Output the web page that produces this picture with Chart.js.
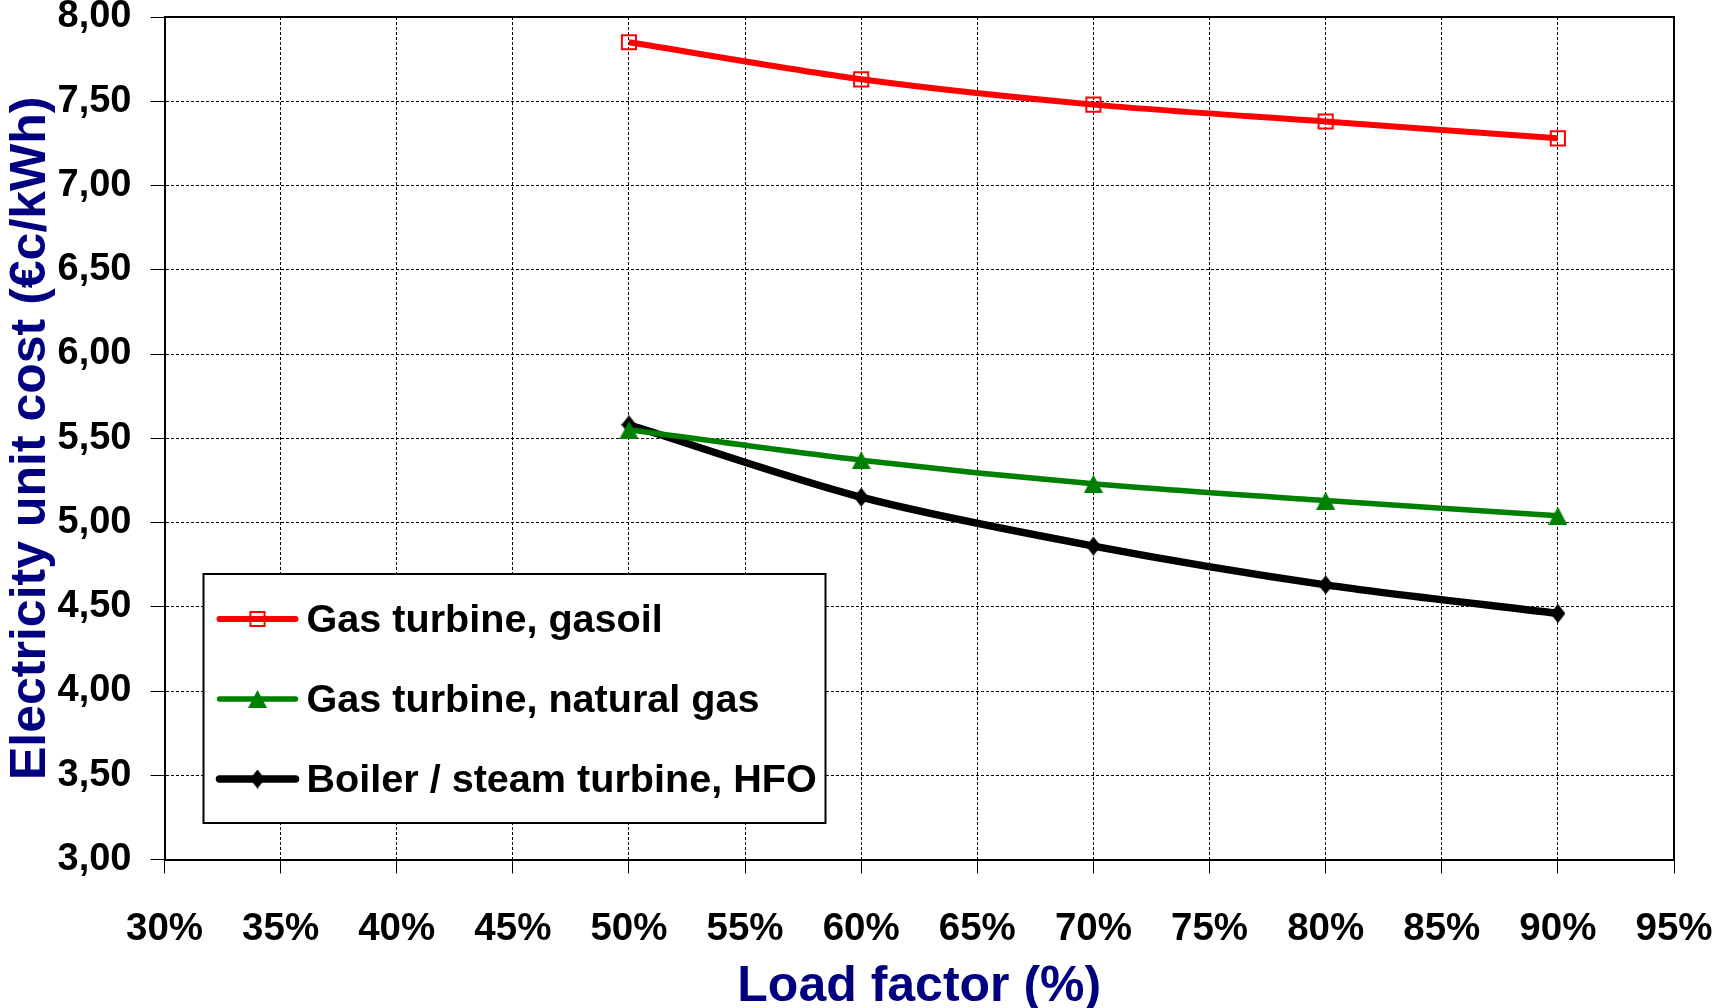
<!DOCTYPE html>
<html>
<head>
<meta charset="utf-8">
<script src="https://cdn.jsdelivr.net/npm/chart.js@4.4.1/dist/chart.umd.min.js"></script>
<style>
  html, body { margin: 0; padding: 0; background: #fff; }
  #wrap { width: 1719px; height: 1008px; position: relative; }
</style>
</head>
<body>
<div id="wrap"><canvas id="c" width="1719" height="1008"></canvas></div>
<script>
// ---- Data ----
const loadFactors = [50, 60, 70, 80, 90];
const gasTurbineGasoil = [7.85, 7.63, 7.48, 7.38, 7.28];
const gasTurbineNaturalGas = [5.55, 5.37, 5.23, 5.13, 5.04];
const boilerSteamHFO = [5.58, 5.15, 4.86, 4.63, 4.46];
const seriesLabels = ['Gas turbine, gasoil', 'Gas turbine, natural gas', 'Boiler / steam turbine, HFO'];
const xAxisTitle = 'Load factor (%)';
const yAxisTitle = 'Electricity unit cost (€c/kWh)';

const FONT = "'Liberation Sans', Arial, Helvetica, sans-serif";
const NAVY = '#000080';

function toPoints(vals) { return loadFactors.map((x, i) => ({ x: x, y: vals[i] })); }

function zeroPadding(scale) {
  scale.paddingLeft = 0; scale.paddingRight = 0;
  scale.paddingTop = 0; scale.paddingBottom = 0;
}

// Excel-like markers centred on their bounding box
function makeMarker(w, h, color, pts) {
  const cv = document.createElement('canvas');
  cv.width = w; cv.height = h;
  const c = cv.getContext('2d');
  c.fillStyle = color;
  c.beginPath();
  pts.forEach((p, i) => i ? c.lineTo(p[0] * w, p[1] * h) : c.moveTo(p[0] * w, p[1] * h));
  c.closePath();
  c.fill();
  return cv;
}
const triangleMarker = makeMarker(19, 18, '#008000', [[0.5, 0], [1, 1], [0, 1]]);
const diamondMarker = makeMarker(15, 19, '#000000', [[0.5, 0], [1, 0.5], [0.5, 1], [0, 0.5]]);

const frameAndLegend = {
  id: 'frameAndLegend',
  beforeDatasetsDraw(chart) {
    const { ctx, chartArea: a } = chart;
    ctx.save();
    ctx.strokeStyle = '#000';
    ctx.lineWidth = 2;
    ctx.beginPath();
    ctx.moveTo(a.left, a.top);
    ctx.lineTo(a.right, a.top);
    ctx.lineTo(a.right, a.bottom);
    ctx.stroke();
    ctx.restore();
  },
  afterDraw(chart) {
    const { ctx, chartArea: a } = chart;
    const bx = a.left + 39, by = 574, bw = 622, bh = 249;
    ctx.save();
    ctx.fillStyle = '#fff';
    ctx.fillRect(bx, by, bw, bh);
    ctx.strokeStyle = '#000';
    ctx.lineWidth = 2;
    ctx.strokeRect(bx, by, bw, bh);
    chart.data.datasets.forEach((ds, i) => {
      const y = by + 45 + i * 80;
      const x0 = bx + 16, x1 = bx + 92;
      ctx.strokeStyle = ds.borderColor;
      ctx.lineWidth = ds.borderWidth;
      ctx.lineCap = 'round';
      ctx.beginPath();
      ctx.moveTo(x0, y);
      ctx.lineTo(x1, y);
      ctx.stroke();
      ctx.fillStyle = ds.pointBackgroundColor;
      ctx.strokeStyle = ds.pointBorderColor;
      ctx.lineWidth = ds.pointBorderWidth;
      Chart.helpers.drawPoint(ctx, {
        pointStyle: ds.pointStyle,
        radius: ds.pointRadius,
        rotation: 0,
        borderWidth: ds.pointBorderWidth
      }, (x0 + x1) / 2, y);
      ctx.fillStyle = '#000';
      ctx.font = 'bold 39.6px ' + FONT;
      ctx.textBaseline = 'middle';
      ctx.textAlign = 'left';
      ctx.fillText(ds.label, bx + 103, y + 2);
    });
    ctx.restore();
  }
};

new Chart(document.getElementById('c'), {
  type: 'line',
  data: {
    datasets: [
      {
        label: seriesLabels[0],
        data: toPoints(gasTurbineGasoil),
        borderColor: '#ff0000',
        borderWidth: 6,
        pointStyle: 'rect',
        pointRadius: 10,
        pointBackgroundColor: 'rgba(255,255,255,0)',
        pointBorderColor: '#ff0000',
        pointBorderWidth: 2,
        tension: 0.3
      },
      {
        label: seriesLabels[1],
        data: toPoints(gasTurbineNaturalGas),
        borderColor: '#008000',
        borderWidth: 5.5,
        pointStyle: triangleMarker,
        pointRadius: 10,
        pointBackgroundColor: '#008000',
        pointBorderColor: '#008000',
        pointBorderWidth: 0,
        tension: 0.3
      },
      {
        label: seriesLabels[2],
        data: toPoints(boilerSteamHFO),
        borderColor: '#000000',
        borderWidth: 7.5,
        pointStyle: diamondMarker,
        pointRadius: 9,
        pointBackgroundColor: '#000000',
        pointBorderColor: '#000000',
        pointBorderWidth: 0,
        tension: 0.3
      }
    ]
  },
  options: {
    responsive: false,
    animation: false,
    devicePixelRatio: 1,
    layout: { autoPadding: false, padding: { top: 17, right: 45, left: 0, bottom: 0 } },
    plugins: {
      legend: { display: false },
      tooltip: { enabled: false }
    },
    scales: {
      x: {
        type: 'linear',
        min: 30,
        max: 95,
        afterFit(scale) { scale.height = 148.5; zeroPadding(scale); },
        ticks: {
          stepSize: 5,
          autoSkip: false,
          maxRotation: 0,
          color: '#000',
          padding: 33,
          font: { family: FONT, size: 38.5, weight: 'bold' },
          callback: (v) => v + '%'
        },
        grid: { color: '#000', lineWidth: 1, tickLength: 14, tickColor: '#000', tickWidth: 1 },
        border: { display: true, color: '#000', width: 2, dash: [3, 2] },
        title: {
          display: true,
          text: xAxisTitle,
          color: NAVY,
          font: { family: FONT, size: 50, weight: 'bold', lineHeight: 0.84 },
          padding: { top: 0, bottom: 0 }
        }
      },
      y: {
        type: 'linear',
        min: 3,
        max: 8,
        afterFit(scale) { scale.width = 164.5; zeroPadding(scale); },
        ticks: {
          stepSize: 0.5,
          color: '#000',
          padding: 19,
          font: { family: FONT, size: 38, weight: 'bold' },
          callback: (v) => Number(v).toFixed(2).replace('.', ',')
        },
        grid: { color: '#000', lineWidth: 1, tickLength: 14, tickColor: '#000', tickWidth: 1 },
        border: { display: true, color: '#000', width: 2, dash: [3, 2] },
        title: {
          display: true,
          text: yAxisTitle,
          color: NAVY,
          font: { family: FONT, size: 50, weight: 'bold', lineHeight: 1 },
          padding: { top: 6, bottom: 0 }
        }
      }
    }
  },
  plugins: [frameAndLegend]
});
</script>
</body>
</html>
